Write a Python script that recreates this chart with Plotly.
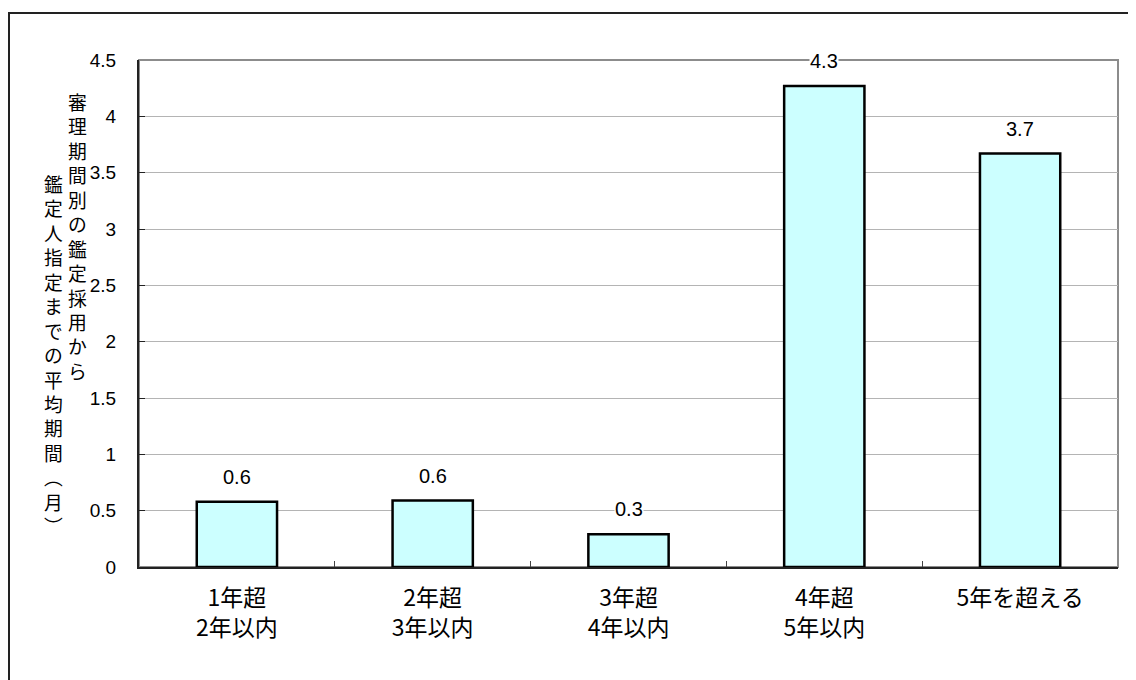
import plotly.graph_objects as go

categories = ["1年超<br>2年以内", "2年超<br>3年以内", "3年超<br>4年以内", "4年超<br>5年以内", "5年を超える"]
values = [0.58, 0.59, 0.29, 4.27, 3.67]
y_ticks = [0, 0.5, 1, 1.5, 2, 2.5, 3, 3.5, 4, 4.5]
y_tick_labels = ["0", "0.5", "1", "1.5", "2", "2.5", "3", "3.5", "4", "4.5"]
title_col1 = "審理期間別の鑑定採用から"
title_col2 = "鑑定人指定までの平均期間︵月︶"

# page body has an 8px default margin; work in page pixels and offset
OFF = 8
W, H = 1136 - OFF, 680 - OFF
PL, PR, PT, PB = 139, 1118, 60, 567  # plot area in page pixels
L, T = PL - OFF, PT - OFF
R = W - (PR - OFF)
B = H - (PB - OFF)
PW = PR - PL
PH = PB - PT

FONT = "Liberation Sans, Noto Sans CJK JP, sans-serif"
CJK = "Noto Sans CJK JP, sans-serif"

fig = go.Figure()
fig.add_trace(go.Bar(
    x=categories, y=values,
    marker=dict(color="#CCFFFF", line=dict(color="black", width=2.5)),
    width=0.41,
    hoverinfo="skip",
))

annotations = []
for c, v in zip(categories, values):
    annotations.append(dict(
        x=c, y=v, xref="x", yref="y", text=f"{v:.1f}", showarrow=False,
        yanchor="bottom", yshift=13, bgcolor="white", borderpad=0,
        font=dict(family=FONT, size=20, color="black"),
    ))

def px2x(px):
    return (px - PL) / PW

def py2y(py):
    return 1 - (py - PT) / PH

annotations.append(dict(
    x=px2x(77), y=py2y(86), xref="paper", yref="paper", xanchor="center", yanchor="top",
    text="<br>".join(list(title_col1)), showarrow=False,
    font=dict(family=CJK, size=18.8, color="black"),
))
annotations.append(dict(
    x=px2x(53), y=py2y(168), xref="paper", yref="paper", xanchor="center", yanchor="top",
    text="<br>".join(list(title_col2)), showarrow=False,
    font=dict(family=CJK, size=18.8, color="black"),
))

shapes = [
    dict(type="rect", xref="paper", yref="paper", x0=0, x1=1, y0=0, y1=1,
         line=dict(color="#8c8c8c", width=2), layer="below"),
    dict(type="rect", xref="paper", yref="paper",
         x0=px2x(9), x1=px2x(1250), y0=py2y(800), y1=py2y(13),
         line=dict(color="#222222", width=2), layer="below"),
]

fig.update_layout(
    width=W, height=H,
    margin=dict(l=L, r=R, t=T, b=B, autoexpand=False),
    paper_bgcolor="white", plot_bgcolor="white",
    showlegend=False,
    annotations=annotations, shapes=shapes,
    font=dict(family=FONT, size=19, color="black"),
)
fig.update_yaxes(
    range=[0, 4.5], tickvals=y_ticks, ticktext=y_tick_labels,
    showgrid=True, gridcolor="#b4b4b4", gridwidth=1,
    showline=True, linecolor="#222222", linewidth=2,
    ticks="inside", ticklen=6, tickcolor="#222222",
    ticklabelstandoff=17, zeroline=False,
    tickfont=dict(family=FONT, size=19, color="black"),
)
fig.update_xaxes(
    showline=True, linecolor="#222222", linewidth=2,
    ticks="inside", ticklen=6, tickcolor="#444444", tickson="boundaries",
    showgrid=False, ticklabelstandoff=9,
    tickfont=dict(family=CJK, size=23, color="black"),
)

fig.write_html("out.html")
